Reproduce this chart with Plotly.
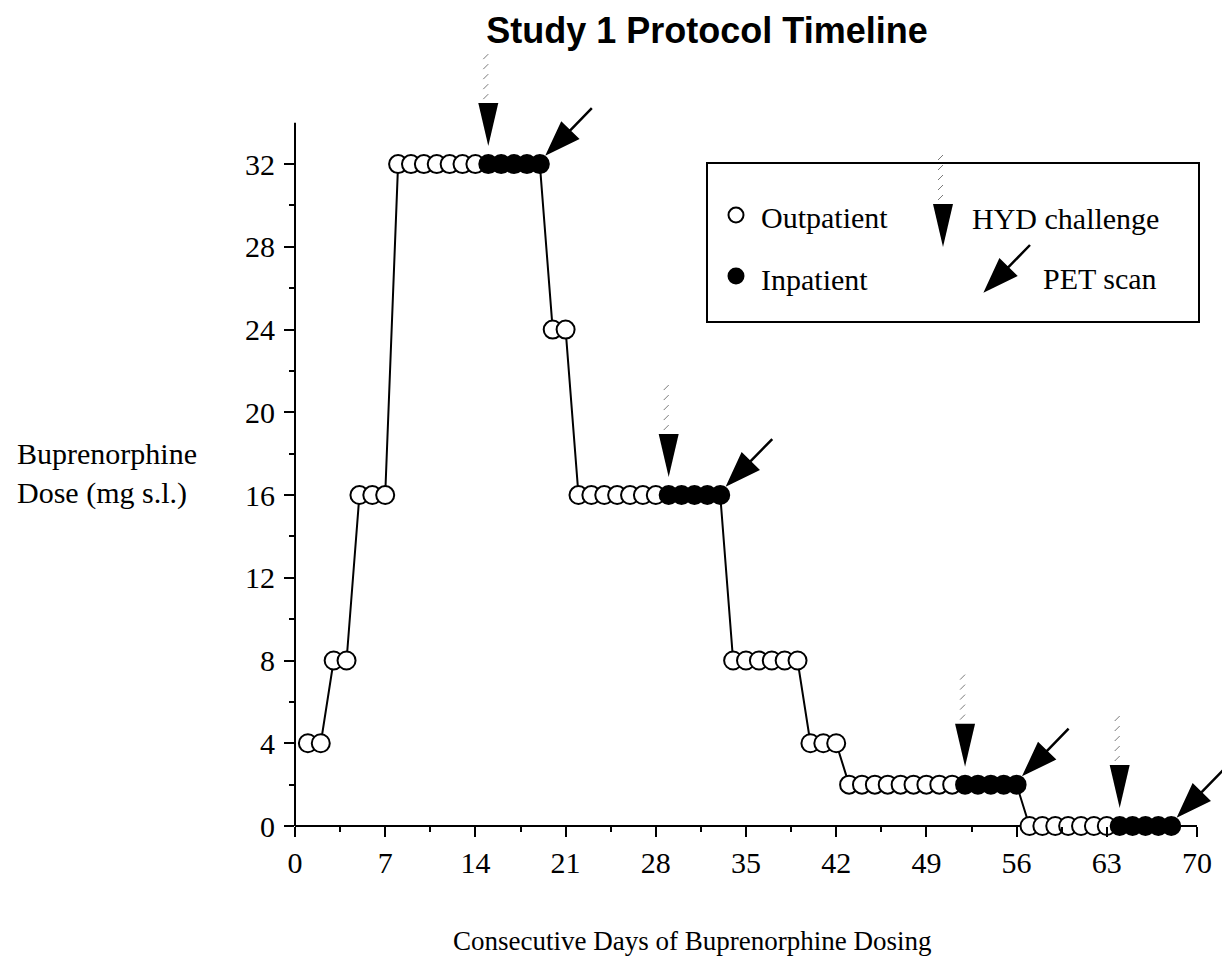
import plotly.graph_objects as go

# ---- data -------------------------------------------------------------
days = [1, 2, 3, 4, 5, 6, 7, 8, 9, 10, 11, 12, 13, 14, 15, 16, 17, 18, 19, 20,
        21, 22, 23, 24, 25, 26, 27, 28, 29, 30, 31, 32, 33, 34, 35, 36, 37, 38,
        39, 40, 41, 42, 43, 44, 45, 46, 47, 48, 49, 50, 51, 52, 53, 54, 55, 56,
        57, 58, 59, 60, 61, 62, 63, 64, 65, 66, 67, 68]

dose_mg = [4, 4, 8, 8, 16, 16, 16, 32, 32, 32, 32, 32, 32, 32, 32, 32, 32, 32, 32,
           24, 24, 16, 16, 16, 16, 16, 16, 16, 16, 16, 16, 16, 16, 8, 8, 8, 8, 8,
           8, 4, 4, 4, 2, 2, 2, 2, 2, 2, 2, 2, 2, 2, 2, 2, 2, 2, 0, 0, 0, 0, 0, 0,
           0, 0, 0, 0, 0, 0]

setting = ["out", "out", "out", "out", "out", "out", "out", "out", "out", "out",
           "out", "out", "out", "out", "in", "in", "in", "in", "in", "out",
           "out", "out", "out", "out", "out", "out", "out", "out", "in", "in",
           "in", "in", "in", "out", "out", "out", "out", "out", "out", "out",
           "out", "out", "out", "out", "out", "out", "out", "out", "out", "out",
           "out", "in", "in", "in", "in", "in", "out", "out", "out", "out",
           "out", "out", "out", "in", "in", "in", "in", "in"]

hyd_challenge_days = [15, 29, 52, 64]
pet_scan_days = [19, 33, 56, 68]

x_tick_vals = [0, 7, 14, 21, 28, 35, 42, 49, 56, 63, 70]
x_minor_vals = [3.5, 10.5, 17.5, 24.5, 31.5, 38.5, 45.5, 52.5, 59.5, 66.5]
y_tick_vals = [0, 4, 8, 12, 16, 20, 24, 28, 32]
y_minor_vals = [2, 6, 10, 14, 18, 22, 26, 30]

# ---- layout geometry ----------------------------------------------------
W, H = 1222, 967
M_L, M_R, M_T, M_B = 295, 0, 40, 141
PLOT_W = W - M_L - M_R
PLOT_H = H - M_T - M_B
X_RANGE = [0, 71.94]
Y_RANGE = [0, 38.0]
X_AXIS_END = 70
Y_AXIS_END = 34

SERIF = "Liberation Serif, Times New Roman, serif"
SANS = "Liberation Sans, Arial, sans-serif"
TXT = 30


def paper_x(px):
    return (px - M_L) / PLOT_W


def paper_y(py):
    return (M_T + PLOT_H - py) / PLOT_H


def hyd_path(tx, ty):
    """Tall downward triangle with its tip at (tx, ty) pixels (y up)."""
    return f"M {tx - 10},{ty + 43} L {tx + 10},{ty + 43} L {tx},{ty} Z"


def hyd_hatch(tx, ty):
    """Slashed lead-in above the triangle."""
    segs = []
    for off in (47, 57, 67, 77, 87):
        segs.append(f"M {tx - 4},{ty + off} L {tx + 1},{ty + off + 5}")
    return " ".join(segs)


def pet_path(tx, ty):
    """Arrow pointing down-left, tip at (tx, ty) pixels (y up)."""
    ux, uy = 0.70, 0.714
    px_, py_ = -uy, ux
    head, half = 31, 11
    bx, by = tx + ux * head, ty + uy * head
    c1 = (bx + px_ * half, by + py_ * half)
    c2 = (bx - px_ * half, by - py_ * half)
    tail = (tx + 44, ty + 45)
    return (f"M {tx},{ty} L {c1[0]:.1f},{c1[1]:.1f} L {c2[0]:.1f},{c2[1]:.1f} Z "
            f"M {bx:.1f},{by:.1f} L {tail[0]},{tail[1]}")


fig = go.Figure()

marker_fill = ["white" if s == "out" else "black" for s in setting]
fig.add_trace(go.Scatter(
    x=days, y=dose_mg, mode="lines+markers",
    line=dict(color="black", width=2),
    marker=dict(size=18, color=marker_fill, line=dict(color="black", width=2)),
    cliponaxis=False, showlegend=False, hoverinfo="skip",
))

shapes = []

# axis lines
shapes.append(dict(type="line", xref="x", yref="paper", x0=0, x1=X_AXIS_END,
                   y0=0, y1=0, line=dict(color="black", width=2), layer="below"))
shapes.append(dict(type="line", xref="paper", yref="y", x0=0, x1=0,
                   y0=0, y1=Y_AXIS_END, line=dict(color="black", width=2),
                   layer="below"))

dose_by_day = dict(zip(days, dose_mg))

# HYD challenge markers above the first inpatient day
for d in hyd_challenge_days:
    common = dict(xref="x", yref="y", xsizemode="pixel", ysizemode="pixel",
                  xanchor=d, yanchor=dose_by_day[d], layer="above")
    shapes.append(dict(type="path", path=hyd_path(0, 18), fillcolor="black",
                       line=dict(width=0), **common))
    shapes.append(dict(type="path", path=hyd_hatch(-1, 18),
                       line=dict(color="#7a7a7a", width=1), **common))

# PET scan arrows at the last inpatient day
for d in pet_scan_days:
    shapes.append(dict(type="path", path=pet_path(8, 11), xref="x", yref="y",
                       xsizemode="pixel", ysizemode="pixel", xanchor=d,
                       yanchor=dose_by_day[d], fillcolor="black",
                       line=dict(color="black", width=2.5), layer="above"))

# legend frame
shapes.append(dict(type="rect", xref="paper", yref="paper",
                   x0=paper_x(707), x1=paper_x(1199),
                   y0=paper_y(322), y1=paper_y(163),
                   line=dict(color="black", width=2), fillcolor="rgba(0,0,0,0)"))

# legend glyphs
for cy, fill in ((215, "white"), (276, "black")):
    shapes.append(dict(type="circle", xref="paper", yref="paper",
                       xsizemode="pixel", ysizemode="pixel",
                       xanchor=paper_x(736), yanchor=paper_y(cy),
                       x0=-7.5, x1=7.5, y0=-7.5, y1=7.5,
                       fillcolor=fill, line=dict(color="black", width=2)))

leg_common = dict(xref="paper", yref="paper", xsizemode="pixel", ysizemode="pixel")
shapes.append(dict(type="path", path=hyd_path(0, 0), fillcolor="black",
                   line=dict(width=0), xanchor=paper_x(943),
                   yanchor=paper_y(247), **leg_common))
shapes.append(dict(type="path", path=hyd_hatch(-1, 0),
                   line=dict(color="#7a7a7a", width=1), xanchor=paper_x(943),
                   yanchor=paper_y(247), **leg_common))
shapes.append(dict(type="path", path=pet_path(0, 0), fillcolor="black",
                   line=dict(color="black", width=2.5), xanchor=paper_x(986),
                   yanchor=paper_y(290), **leg_common))

annotations = [
    dict(text="Outpatient", x=paper_x(759), y=paper_y(218)),
    dict(text="Inpatient", x=paper_x(759), y=paper_y(279)),
    dict(text="HYD challenge", x=paper_x(970), y=paper_y(219)),
    dict(text="PET scan", x=paper_x(1041), y=paper_y(278)),
]
for a in annotations:
    a.update(xref="paper", yref="paper", xanchor="left", yanchor="middle",
             showarrow=False, font=dict(family=SERIF, size=TXT, color="black"))

annotations.append(dict(
    text="Buprenorphine<br>Dose (mg s.l.)", xref="paper", yref="paper",
    x=paper_x(15), y=paper_y(473), xanchor="left", yanchor="middle",
    align="left", showarrow=False,
    font=dict(family=SERIF, size=TXT, color="black")))
annotations.append(dict(
    text="Consecutive Days of Buprenorphine Dosing", xref="paper", yref="paper",
    x=paper_x(692), y=paper_y(941), xanchor="center", yanchor="middle",
    showarrow=False, font=dict(family=SERIF, size=27, color="black")))

axis_common = dict(
    showgrid=False, zeroline=False, showline=False,
    ticks="outside", ticklen=10, tickwidth=2, tickcolor="black",
    tickmode="array",
    tickfont=dict(family=SERIF, size=TXT, color="black"),
    fixedrange=True,
)

fig.update_layout(
    width=W, height=H,
    margin=dict(l=M_L, r=M_R, t=M_T, b=M_B, pad=0),
    paper_bgcolor="white", plot_bgcolor="white",
    title=dict(text="<b>Study 1 Protocol Timeline</b>", xref="paper",
               x=paper_x(707), xanchor="center", y=1 - 30 / H, yanchor="middle",
               font=dict(family=SANS, size=36, color="black")),
    xaxis=dict(range=X_RANGE, tickvals=x_tick_vals, ticklabelstandoff=0,
               minor=dict(tickmode="array", tickvals=x_minor_vals, ticks="outside",
                          ticklen=5, tickwidth=2, tickcolor="black"),
               **axis_common),
    yaxis=dict(range=Y_RANGE, tickvals=y_tick_vals, ticklabelstandoff=3,
               minor=dict(tickmode="array", tickvals=y_minor_vals, ticks="outside",
                          ticklen=5, tickwidth=2, tickcolor="black"),
               **axis_common),
    shapes=shapes,
    annotations=annotations,
    showlegend=False,
)

fig.write_html("out.html")
